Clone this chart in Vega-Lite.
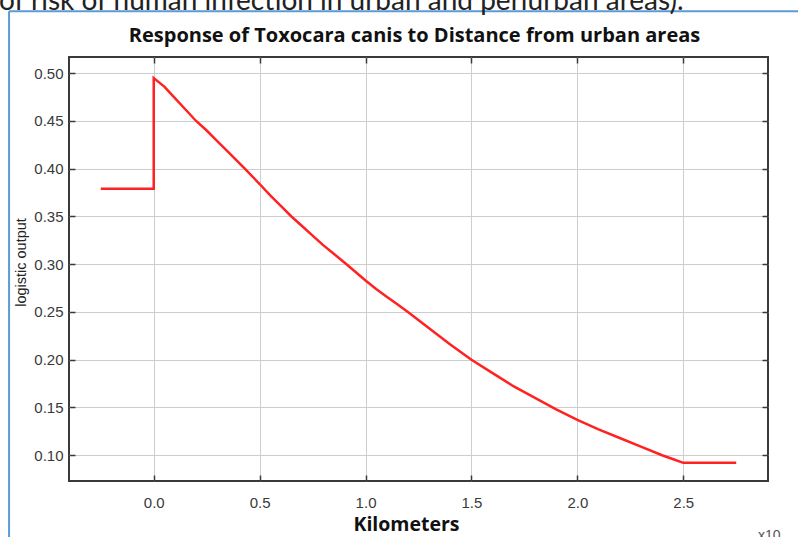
{
  "$schema": "https://vega.github.io/schema/vega-lite/v6.json",
  "width": 699,
  "height": 424,
  "autosize": {"type": "none"},
  "padding": {"left": 69, "top": 57, "right": 30, "bottom": 56},
  "background": "white",
  "title": {
    "text": "of risk of human infection in urban and periurban areas).",
    "anchor": "start",
    "frame": "bounds",
    "font": "Lato",
    "fontSize": 28,
    "fontWeight": "normal",
    "color": "#222222",
    "baseline": "alphabetic",
    "offset": -28,
    "dx": -9
  },
  "config": {
    "view": {"stroke": "#3a3a3a", "strokeWidth": 2},
    "axis": {
      "labelFont": "Liberation Sans",
      "labelFontSize": 15,
      "labelColor": "#3a3a3a",
      "tickColor": "#3a3a3a",
      "tickWidth": 1.5,
      "tickSize": -6,
      "domain": false,
      "gridColor": "#cdcdcd",
      "gridWidth": 1
    }
  },
  "datasets": {
    "curve": [
      {"i": 1, "km": -0.25, "out": 0.379},
      {"i": 2, "km": 0.0, "out": 0.379},
      {"i": 3, "km": 0.0, "out": 0.495},
      {"i": 4, "km": 0.05, "out": 0.486},
      {"i": 5, "km": 0.1, "out": 0.474},
      {"i": 6, "km": 0.15, "out": 0.462},
      {"i": 7, "km": 0.2, "out": 0.45},
      {"i": 8, "km": 0.25, "out": 0.44},
      {"i": 9, "km": 0.3, "out": 0.429},
      {"i": 10, "km": 0.35, "out": 0.418},
      {"i": 11, "km": 0.43, "out": 0.4},
      {"i": 12, "km": 0.5, "out": 0.384},
      {"i": 13, "km": 0.55, "out": 0.372},
      {"i": 14, "km": 0.6, "out": 0.361},
      {"i": 15, "km": 0.65, "out": 0.35},
      {"i": 16, "km": 0.7, "out": 0.34},
      {"i": 17, "km": 0.75, "out": 0.33},
      {"i": 18, "km": 0.8, "out": 0.32},
      {"i": 19, "km": 0.85, "out": 0.311},
      {"i": 20, "km": 0.91, "out": 0.3},
      {"i": 21, "km": 1.0, "out": 0.283},
      {"i": 22, "km": 1.05, "out": 0.274},
      {"i": 23, "km": 1.1, "out": 0.266},
      {"i": 24, "km": 1.15, "out": 0.258},
      {"i": 25, "km": 1.2, "out": 0.25},
      {"i": 26, "km": 1.3, "out": 0.233},
      {"i": 27, "km": 1.4, "out": 0.216},
      {"i": 28, "km": 1.5, "out": 0.2},
      {"i": 29, "km": 1.6, "out": 0.186},
      {"i": 30, "km": 1.7, "out": 0.172},
      {"i": 31, "km": 1.8, "out": 0.16},
      {"i": 32, "km": 1.9, "out": 0.148},
      {"i": 33, "km": 2.0, "out": 0.137},
      {"i": 34, "km": 2.1, "out": 0.127},
      {"i": 35, "km": 2.2, "out": 0.118},
      {"i": 36, "km": 2.3, "out": 0.109},
      {"i": 37, "km": 2.4, "out": 0.1},
      {"i": 38, "km": 2.45, "out": 0.096},
      {"i": 39, "km": 2.5, "out": 0.092},
      {"i": 40, "km": 2.75, "out": 0.092}
    ]
  },
  "layer": [
    {
      "data": {"values": [{}]},
      "mark": {"type": "rule", "color": "#5b9bd5", "strokeWidth": 2, "clip": false},
      "encoding": {
        "x": {
          "datum": -0.683, "type": "quantitative",
          "scale": {"domain": [-0.4, 2.9], "nice": false, "zero": false},
          "axis": {
            "orient": "top", "labels": false, "grid": false,
            "values": [0, 0.5, 1, 1.5, 2, 2.5],
            "title": "Response of Toxocara canis to Distance from urban areas",
            "titleFont": "Open Sans", "titleFontSize": 20, "titleFontWeight": "bold",
            "titleColor": "#111111", "titleBaseline": "alphabetic",
            "titleX": 345, "titleY": -16
          }
        },
        "x2": {"datum": 3.2},
        "y": {
          "datum": 0.565, "type": "quantitative",
          "scale": {"domain": [0.073, 0.517], "nice": false, "zero": false},
          "axis": {
            "orient": "right", "labels": false, "grid": false,
            "values": [0.1, 0.15, 0.2, 0.25, 0.3, 0.35, 0.4, 0.45, 0.5],
            "title": null
          }
        }
      }
    },
    {
      "data": {"values": [{}]},
      "mark": {"type": "rule", "color": "#5b9bd5", "strokeWidth": 2, "clip": false},
      "encoding": {
        "x": {"datum": -0.683, "type": "quantitative", "axis": null},
        "y": {"datum": 0.565, "type": "quantitative", "axis": null},
        "y2": {"datum": -0.05}
      }
    },
    {
      "data": {"values": [{}]},
      "mark": {"type": "text", "text": "x10", "font": "Liberation Sans", "fontSize": 14, "color": "#555555", "align": "left", "baseline": "alphabetic", "clip": false},
      "encoding": {
        "x": {"datum": 2.853, "type": "quantitative", "axis": null},
        "y": {"datum": 0.0112, "type": "quantitative", "axis": null}
      }
    },
    {
      "data": {"name": "curve"},
      "mark": {"type": "line", "color": "#ff2222", "strokeWidth": 2.5, "clip": true},
      "encoding": {
        "x": {
          "field": "km", "type": "quantitative",
          "scale": {"domain": [-0.4, 2.9], "nice": false, "zero": false},
          "axis": {
            "orient": "bottom", "grid": true,
            "values": [0, 0.5, 1, 1.5, 2, 2.5], "format": ".1f",
            "labelPadding": 20,
            "title": "Kilometers",
            "titleFont": "Open Sans", "titleFontSize": 19.5, "titleFontWeight": "bold",
            "titleColor": "#111111", "titleBaseline": "alphabetic",
            "titleX": 337, "titleY": 49
          }
        },
        "y": {
          "field": "out", "type": "quantitative",
          "scale": {"domain": [0.073, 0.517], "nice": false, "zero": false},
          "axis": {
            "orient": "left", "grid": true,
            "values": [0.1, 0.15, 0.2, 0.25, 0.3, 0.35, 0.4, 0.45, 0.5], "format": ".2f",
            "labelPadding": 12,
            "title": "logistic output",
            "titleFont": "Liberation Sans", "titleFontSize": 14.5, "titleFontWeight": "normal",
            "titleColor": "#222222", "titleBaseline": "alphabetic", "titleAngle": -90,
            "titleX": -44, "titleY": 205
          }
        },
        "order": {"field": "i", "type": "quantitative"}
      }
    }
  ],
  "resolve": {"axis": {"x": "independent", "y": "independent"}}
}
